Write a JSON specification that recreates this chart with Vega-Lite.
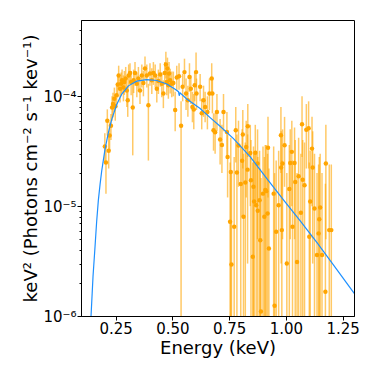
{
  "$schema": "https://vega.github.io/schema/vega-lite/v6.json",
  "width": 273,
  "height": 296,
  "autosize": "none",
  "padding": {"left": 81, "top": 20, "right": 20, "bottom": 58},
  "background": "white",
  "config": {
    "font": "DejaVu Sans",
    "view": {"stroke": "black", "strokeWidth": 1},
    "axis": {"grid": false, "domainColor": "black", "tickColor": "black", "labelColor": "black", "titleColor": "black", "labelFontSize": 15, "titleFontSize": 18, "titleFontWeight": "normal", "tickSize": 4, "labelPadding": 1}
  },
  "datasets": {
    "model": [
      {"e": 0.136, "f": 6.4e-7}, {"e": 0.1412, "f": 1.0e-6}, {"e": 0.150, "f": 2.3e-6}, {"e": 0.1588, "f": 4.27e-6},
      {"e": 0.166, "f": 7.24e-6}, {"e": 0.1735, "f": 1.135e-5}, {"e": 0.181, "f": 1.58e-5}, {"e": 0.1882, "f": 2.09e-5},
      {"e": 0.2029, "f": 3.31e-5}, {"e": 0.2176, "f": 4.68e-5}, {"e": 0.2324, "f": 6.17e-5}, {"e": 0.2544, "f": 8.41e-5},
      {"e": 0.2765, "f": 1.047e-4}, {"e": 0.3059, "f": 1.245e-4}, {"e": 0.3426, "f": 1.374e-4}, {"e": 0.3868, "f": 1.419e-4},
      {"e": 0.4309, "f": 1.393e-4}, {"e": 0.475, "f": 1.294e-4}, {"e": 0.5118, "f": 1.161e-4}, {"e": 0.5265, "f": 1.102e-4},
      {"e": 0.530, "f": 1.012e-4}, {"e": 0.5335, "f": 1.076e-4}, {"e": 0.563, "f": 9.44e-5}, {"e": 0.622, "f": 7.73e-5},
      {"e": 0.666, "f": 6.40e-5}, {"e": 0.710, "f": 5.33e-5}, {"e": 0.769, "f": 4.12e-5}, {"e": 0.843, "f": 2.81e-5},
      {"e": 0.916, "f": 1.78e-5}, {"e": 0.990, "f": 1.135e-5}, {"e": 1.063, "f": 7.36e-6}, {"e": 1.137, "f": 4.65e-6},
      {"e": 1.210, "f": 2.91e-6}, {"e": 1.301, "f": 1.61e-6}, {"e": 1.31, "f": 1.51e-6}
    ],
    "obs": [
      {"e": 0.202, "f": 3.5e-5, "lo": 2.5e-5, "hi": 4.6e-5},
      {"e": 0.207, "f": 2.5e-5, "lo": 1.3e-5, "hi": 3.6e-5},
      {"e": 0.213, "f": 6.0e-5, "lo": 4.4e-5, "hi": 7.6e-5},
      {"e": 0.219, "f": 3.2e-5, "lo": 2.2e-5, "hi": 4.4e-5},
      {"e": 0.223, "f": 4.4e-5, "lo": 3.2e-5, "hi": 5.8e-5},
      {"e": 0.229, "f": 5.4e-5, "lo": 4.0e-5, "hi": 6.9e-5},
      {"e": 0.234, "f": 7.9e-5, "lo": 6.0e-5, "hi": 1.0e-4},
      {"e": 0.238, "f": 8.5e-5, "lo": 6.4e-5, "hi": 1.08e-4},
      {"e": 0.244, "f": 9.5e-5, "lo": 7.2e-5, "hi": 1.2e-4},
      {"e": 0.248, "f": 8.1e-5, "lo": 6.0e-5, "hi": 1.05e-4},
      {"e": 0.254, "f": 1.02e-4, "lo": 7.8e-5, "hi": 1.3e-4},
      {"e": 0.259, "f": 1.28e-4, "lo": 9.8e-5, "hi": 1.6e-4},
      {"e": 0.263, "f": 1.55e-4, "lo": 1.2e-4, "hi": 1.9e-4},
      {"e": 0.269, "f": 1.17e-4, "lo": 8.8e-5, "hi": 1.5e-4},
      {"e": 0.274, "f": 1.30e-4, "lo": 1.0e-4, "hi": 1.65e-4},
      {"e": 0.278, "f": 1.40e-4, "lo": 1.07e-4, "hi": 1.75e-4},
      {"e": 0.284, "f": 1.20e-4, "lo": 9.0e-5, "hi": 1.55e-4},
      {"e": 0.288, "f": 1.35e-4, "lo": 1.03e-4, "hi": 1.7e-4},
      {"e": 0.294, "f": 1.45e-4, "lo": 1.1e-4, "hi": 1.85e-4},
      {"e": 0.299, "f": 1.13e-4, "lo": 8.0e-5, "hi": 1.5e-4},
      {"e": 0.303, "f": 9.2e-5, "lo": 6.5e-5, "hi": 1.25e-4},
      {"e": 0.307, "f": 1.55e-4, "lo": 1.2e-4, "hi": 1.95e-4},
      {"e": 0.313, "f": 1.63e-4, "lo": 1.28e-4, "hi": 2.0e-4},
      {"e": 0.318, "f": 1.35e-4, "lo": 1.02e-4, "hi": 1.7e-4},
      {"e": 0.325, "f": 7.9e-5, "lo": 2.9e-5, "hi": 1.35e-4},
      {"e": 0.329, "f": 1.40e-4, "lo": 1.07e-4, "hi": 1.75e-4},
      {"e": 0.335, "f": 1.63e-4, "lo": 1.25e-4, "hi": 2.05e-4},
      {"e": 0.343, "f": 1.30e-4, "lo": 9.8e-5, "hi": 1.65e-4},
      {"e": 0.350, "f": 1.45e-4, "lo": 1.1e-4, "hi": 1.85e-4},
      {"e": 0.357, "f": 1.13e-4, "lo": 8.5e-5, "hi": 1.45e-4},
      {"e": 0.365, "f": 1.55e-4, "lo": 1.2e-4, "hi": 1.95e-4},
      {"e": 0.372, "f": 1.32e-4, "lo": 1.0e-4, "hi": 1.7e-4},
      {"e": 0.379, "f": 1.79e-4, "lo": 1.4e-4, "hi": 2.3e-4},
      {"e": 0.387, "f": 1.55e-4, "lo": 1.2e-4, "hi": 1.95e-4},
      {"e": 0.394, "f": 8.3e-5, "lo": 2.6e-5, "hi": 1.3e-4},
      {"e": 0.401, "f": 1.61e-4, "lo": 1.25e-4, "hi": 2.0e-4},
      {"e": 0.409, "f": 1.40e-4, "lo": 1.05e-4, "hi": 1.8e-4},
      {"e": 0.416, "f": 1.63e-4, "lo": 1.27e-4, "hi": 2.05e-4},
      {"e": 0.424, "f": 1.55e-4, "lo": 1.2e-4, "hi": 1.95e-4},
      {"e": 0.431, "f": 1.17e-4, "lo": 8.8e-5, "hi": 1.5e-4},
      {"e": 0.438, "f": 1.38e-4, "lo": 1.05e-4, "hi": 1.75e-4},
      {"e": 0.446, "f": 1.58e-4, "lo": 1.22e-4, "hi": 2.0e-4},
      {"e": 0.453, "f": 1.30e-4, "lo": 9.8e-5, "hi": 1.65e-4},
      {"e": 0.460, "f": 1.06e-4, "lo": 7.8e-5, "hi": 1.4e-4},
      {"e": 0.466, "f": 1.63e-4, "lo": 1.27e-4, "hi": 2.05e-4},
      {"e": 0.471, "f": 1.95e-4, "lo": 1.45e-4, "hi": 2.55e-4},
      {"e": 0.475, "f": 1.35e-4, "lo": 1.02e-4, "hi": 1.72e-4},
      {"e": 0.478, "f": 1.79e-4, "lo": 1.35e-4, "hi": 2.25e-4},
      {"e": 0.482, "f": 1.26e-4, "lo": 9.5e-5, "hi": 1.6e-4},
      {"e": 0.485, "f": 1.61e-4, "lo": 1.22e-4, "hi": 2.05e-4},
      {"e": 0.490, "f": 1.40e-4, "lo": 1.06e-4, "hi": 1.78e-4},
      {"e": 0.497, "f": 1.30e-4, "lo": 9.8e-5, "hi": 1.68e-4},
      {"e": 0.504, "f": 1.32e-4, "lo": 1.0e-4, "hi": 1.68e-4},
      {"e": 0.512, "f": 7.5e-5, "lo": 4.8e-5, "hi": 1.1e-4},
      {"e": 0.519, "f": 1.48e-4, "lo": 1.12e-4, "hi": 1.9e-4},
      {"e": 0.529, "f": 1.52e-4, "lo": 1.15e-4, "hi": 2.0e-4},
      {"e": 0.538, "f": 5.4e-5, "lo": 1e-7, "hi": 9.0e-5},
      {"e": 0.545, "f": 1.22e-4, "lo": 9.0e-5, "hi": 1.6e-4},
      {"e": 0.553, "f": 1.66e-4, "lo": 1.25e-4, "hi": 2.2e-4},
      {"e": 0.560, "f": 1.06e-4, "lo": 7.5e-5, "hi": 1.45e-4},
      {"e": 0.568, "f": 9.2e-5, "lo": 6.5e-5, "hi": 1.25e-4},
      {"e": 0.575, "f": 1.50e-4, "lo": 1.1e-4, "hi": 2.0e-4},
      {"e": 0.581, "f": 1.17e-4, "lo": 8.5e-5, "hi": 1.55e-4},
      {"e": 0.588, "f": 8.0e-5, "lo": 5.8e-5, "hi": 1.1e-4},
      {"e": 0.594, "f": 7.6e-5, "lo": 5.0e-5, "hi": 1.05e-4},
      {"e": 0.598, "f": 1.26e-4, "lo": 9.0e-5, "hi": 1.65e-4},
      {"e": 0.604, "f": 1.66e-4, "lo": 1.2e-4, "hi": 2.5e-4},
      {"e": 0.606, "f": 1.06e-4, "lo": 7.5e-5, "hi": 1.45e-4},
      {"e": 0.622, "f": 1.22e-4, "lo": 9.0e-5, "hi": 1.6e-4},
      {"e": 0.629, "f": 7.0e-5, "lo": 5.0e-5, "hi": 9.5e-5},
      {"e": 0.637, "f": 9.2e-5, "lo": 6.5e-5, "hi": 1.25e-4},
      {"e": 0.644, "f": 8.0e-5, "lo": 5.8e-5, "hi": 1.1e-4},
      {"e": 0.654, "f": 7.2e-5, "lo": 5.0e-5, "hi": 1.0e-4},
      {"e": 0.663, "f": 1.06e-4, "lo": 7.5e-5, "hi": 1.45e-4},
      {"e": 0.673, "f": 1.45e-4, "lo": 1.05e-4, "hi": 2.0e-4},
      {"e": 0.676, "f": 1.06e-4, "lo": 7.0e-5, "hi": 1.5e-4},
      {"e": 0.681, "f": 4.9e-5, "lo": 3.2e-5, "hi": 7.0e-5},
      {"e": 0.688, "f": 4.7e-5, "lo": 3.0e-5, "hi": 7.0e-5},
      {"e": 0.696, "f": 7.2e-5, "lo": 4.8e-5, "hi": 1.05e-4},
      {"e": 0.710, "f": 4.04e-5, "lo": 2.4e-5, "hi": 6.2e-5},
      {"e": 0.718, "f": 3.6e-5, "lo": 2.0e-5, "hi": 5.5e-5},
      {"e": 0.725, "f": 7.2e-5, "lo": 4.8e-5, "hi": 1.05e-4},
      {"e": 0.740, "f": 4.74e-5, "lo": 2.8e-5, "hi": 7.2e-5},
      {"e": 0.743, "f": 2.8e-5, "lo": 1.2e-5, "hi": 4.5e-5},
      {"e": 0.754, "f": 7.21e-6, "lo": 1e-7, "hi": 2.5e-5},
      {"e": 0.757, "f": 2.05e-5, "lo": 1e-7, "hi": 4.2e-5},
      {"e": 0.760, "f": 2.95e-6, "lo": 1e-7, "hi": 2.0e-5},
      {"e": 0.772, "f": 6.49e-6, "lo": 1e-7, "hi": 2.8e-5},
      {"e": 0.779, "f": 4.9e-5, "lo": 2.5e-5, "hi": 8.0e-5},
      {"e": 0.784, "f": 2.02e-5, "lo": 1e-7, "hi": 4.5e-5},
      {"e": 0.791, "f": 3.56e-5, "lo": 1.5e-5, "hi": 6.0e-5},
      {"e": 0.801, "f": 1.59e-5, "lo": 1e-7, "hi": 3.5e-5},
      {"e": 0.807, "f": 2.59e-5, "lo": 8e-6, "hi": 5.0e-5},
      {"e": 0.810, "f": 4.5e-5, "lo": 2.2e-5, "hi": 7.5e-5},
      {"e": 0.813, "f": 8.0e-6, "lo": 1e-7, "hi": 3.0e-5},
      {"e": 0.821, "f": 1.64e-5, "lo": 1e-7, "hi": 3.8e-5},
      {"e": 0.825, "f": 3.46e-5, "lo": 1.2e-5, "hi": 6.0e-5},
      {"e": 0.831, "f": 2.15e-5, "lo": 3e-6, "hi": 4.5e-5},
      {"e": 0.832, "f": 5.33e-5, "lo": 2.8e-5, "hi": 8.5e-5},
      {"e": 0.843, "f": 3.05e-5, "lo": 1.0e-5, "hi": 5.5e-5},
      {"e": 0.846, "f": 1.72e-5, "lo": 1e-7, "hi": 4.0e-5},
      {"e": 0.854, "f": 3.46e-6, "lo": 1e-7, "hi": 2.5e-5},
      {"e": 0.857, "f": 1.5e-5, "lo": 1e-7, "hi": 3.5e-5},
      {"e": 0.860, "f": 1.1e-5, "lo": 1e-7, "hi": 3.0e-5},
      {"e": 0.865, "f": 3.07e-5, "lo": 1.0e-5, "hi": 5.5e-5},
      {"e": 0.869, "f": 1.02e-5, "lo": 1e-7, "hi": 3.2e-5},
      {"e": 0.875, "f": 2.44e-5, "lo": 5e-6, "hi": 5.0e-5},
      {"e": 0.876, "f": 9.1e-6, "lo": 1e-7, "hi": 2.8e-5},
      {"e": 0.884, "f": 1.13e-5, "lo": 1e-7, "hi": 3.2e-5},
      {"e": 0.887, "f": 4.9e-6, "lo": 1e-7, "hi": 2.2e-5},
      {"e": 0.890, "f": 1.1e-6, "lo": 1e-7, "hi": 1.8e-5},
      {"e": 0.899, "f": 1.3e-5, "lo": 1e-7, "hi": 3.5e-5},
      {"e": 0.905, "f": 8.0e-6, "lo": 1e-7, "hi": 2.8e-5},
      {"e": 0.909, "f": 1.4e-5, "lo": 1e-7, "hi": 3.6e-5},
      {"e": 0.913, "f": 1.37e-5, "lo": 1e-7, "hi": 3.6e-5},
      {"e": 0.919, "f": 8.57e-6, "lo": 1e-7, "hi": 3.0e-5},
      {"e": 0.921, "f": 3.4e-5, "lo": 1.2e-5, "hi": 6.5e-5},
      {"e": 0.925, "f": 4.12e-6, "lo": 1e-7, "hi": 2.2e-5},
      {"e": 0.946, "f": 1.3e-5, "lo": 1e-7, "hi": 3.5e-5},
      {"e": 0.950, "f": 1.24e-6, "lo": 1e-7, "hi": 2.0e-5},
      {"e": 0.957, "f": 5.86e-6, "lo": 1e-7, "hi": 2.6e-5},
      {"e": 0.968, "f": 1.02e-5, "lo": 1e-7, "hi": 3.2e-5},
      {"e": 0.978, "f": 4.42e-5, "lo": 2.0e-5, "hi": 8.0e-5},
      {"e": 0.979, "f": 2.25e-5, "lo": 3e-6, "hi": 4.8e-5},
      {"e": 0.982, "f": 6.05e-6, "lo": 1e-7, "hi": 2.6e-5},
      {"e": 0.985, "f": 2.44e-5, "lo": 5e-6, "hi": 5.0e-5},
      {"e": 0.994, "f": 3.59e-5, "lo": 1.5e-5, "hi": 6.5e-5},
      {"e": 1.004, "f": 3.01e-6, "lo": 1e-7, "hi": 2.0e-5},
      {"e": 1.015, "f": 1.43e-5, "lo": 1e-7, "hi": 3.6e-5},
      {"e": 1.019, "f": 2.47e-5, "lo": 5e-6, "hi": 5.0e-5},
      {"e": 1.026, "f": 3.12e-5, "lo": 1.0e-5, "hi": 6.0e-5},
      {"e": 1.029, "f": 6.49e-6, "lo": 1e-7, "hi": 2.6e-5},
      {"e": 1.038, "f": 2.47e-5, "lo": 5e-6, "hi": 5.2e-5},
      {"e": 1.041, "f": 1.66e-5, "lo": 1e-7, "hi": 4.0e-5},
      {"e": 1.049, "f": 3.1e-6, "lo": 1e-7, "hi": 2.0e-5},
      {"e": 1.056, "f": 1.87e-5, "lo": 1e-7, "hi": 4.2e-5},
      {"e": 1.066, "f": 8.7e-6, "lo": 1e-7, "hi": 3.0e-5},
      {"e": 1.071, "f": 5.56e-5, "lo": 2.8e-5, "hi": 1.0e-4},
      {"e": 1.074, "f": 1.74e-5, "lo": 1e-7, "hi": 4.0e-5},
      {"e": 1.082, "f": 1.55e-5, "lo": 1e-7, "hi": 3.8e-5},
      {"e": 1.090, "f": 4.97e-5, "lo": 2.2e-5, "hi": 8.5e-5},
      {"e": 1.100, "f": 5.12e-5, "lo": 2.2e-5, "hi": 9.0e-5},
      {"e": 1.103, "f": 5.26e-6, "lo": 1e-7, "hi": 2.5e-5},
      {"e": 1.107, "f": 1.1e-5, "lo": 1e-7, "hi": 3.2e-5},
      {"e": 1.115, "f": 3.34e-5, "lo": 1.0e-5, "hi": 6.5e-5},
      {"e": 1.118, "f": 2.25e-5, "lo": 3e-6, "hi": 4.8e-5},
      {"e": 1.126, "f": 9.52e-6, "lo": 1e-7, "hi": 3.0e-5},
      {"e": 1.137, "f": 3.59e-6, "lo": 1e-7, "hi": 2.0e-5},
      {"e": 1.144, "f": 5.65e-6, "lo": 1e-7, "hi": 2.4e-5},
      {"e": 1.147, "f": 7.6e-6, "lo": 1e-7, "hi": 2.8e-5},
      {"e": 1.151, "f": 9.7e-6, "lo": 1e-7, "hi": 3.0e-5},
      {"e": 1.159, "f": 3.59e-6, "lo": 1e-7, "hi": 2.0e-5},
      {"e": 1.174, "f": 1.66e-6, "lo": 1e-7, "hi": 1.6e-5},
      {"e": 1.176, "f": 2.44e-5, "lo": 5e-6, "hi": 5.5e-5},
      {"e": 1.191, "f": 6.05e-6, "lo": 1e-7, "hi": 2.4e-5},
      {"e": 1.200, "f": 6.05e-6, "lo": 1e-7, "hi": 2.4e-5}
    ]
  },
  "layer": [
    {
      "data": {"name": "obs"},
      "mark": {"type": "rule", "color": "#FFA500", "opacity": 0.6, "strokeWidth": 1.5, "clip": true},
      "encoding": {
        "x": {"field": "e", "type": "quantitative", "scale": {"domain": [0.097, 1.3], "nice": false, "zero": false},
          "axis": {"values": [0.25, 0.5, 0.75, 1.0, 1.25], "format": ".2f", "title": "Energy (keV)", "titlePadding": 3}},
        "y": {"field": "lo", "type": "quantitative", "scale": {"type": "log", "domain": [1e-6, 4.95e-4], "nice": false},
          "axis": {
            "values": [1e-6, 2e-6, 3e-6, 4e-6, 5e-6, 6e-6, 7e-6, 8e-6, 9e-6, 1e-5, 2e-5, 3e-5, 4e-5, 5e-5, 6e-5, 7e-5, 8e-5, 9e-5, 1e-4, 2e-4, 3e-4, 4e-4],
            "labelExpr": "datum.value == 1e-4 ? '10⁻⁴' : datum.value == 1e-5 ? '10⁻⁵' : datum.value == 1e-6 ? '10⁻⁶' : ''",
            "tickSize": {"condition": {"test": "datum.value == 1e-4 || datum.value == 1e-5 || datum.value == 1e-6", "value": 4}, "value": 2},
            "title": "keV² (Photons cm⁻² s⁻¹ kev⁻¹)", "titlePadding": 2}},
        "y2": {"field": "hi"}
      }
    },
    {
      "data": {"name": "obs"},
      "mark": {"type": "circle", "color": "#FFA500", "opacity": 1, "size": 20, "clip": true},
      "encoding": {
        "x": {"field": "e", "type": "quantitative"},
        "y": {"field": "f", "type": "quantitative"}
      }
    },
    {
      "data": {"name": "model"},
      "mark": {"type": "line", "color": "#1E90FF", "strokeWidth": 1.2, "clip": true},
      "encoding": {
        "x": {"field": "e", "type": "quantitative"},
        "y": {"field": "f", "type": "quantitative"}
      }
    }
  ]
}
